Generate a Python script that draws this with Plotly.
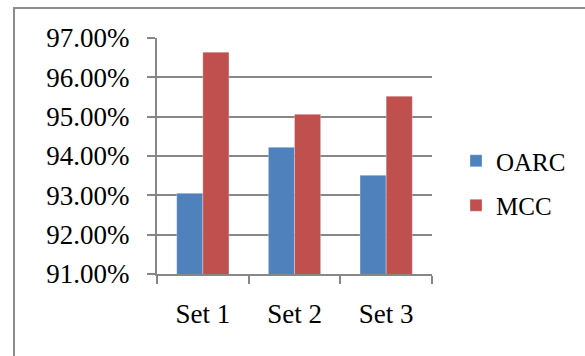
import plotly.graph_objects as go

# Accuracy of the two classifiers on each test set
categories = ["Set 1", "Set 2", "Set 3"]
oarc = [0.9305, 0.9422, 0.9351]
mcc = [0.9664, 0.9506, 0.9552]
y_ticks = [0.91, 0.92, 0.93, 0.94, 0.95, 0.96, 0.97]

BLUE = "#4F81BD"
RED = "#C0504D"
GRID = "#878787"
FONT = "Liberation Serif"

fig = go.Figure()
fig.add_trace(go.Bar(x=categories, y=oarc, name="OARC", marker_color=BLUE,
                     marker_line=dict(color="rgba(255,255,255,0.5)", width=0.6),
                     legendgroup="a"))
fig.add_trace(go.Bar(x=categories, y=mcc, name="MCC", marker_color=RED,
                     marker_line=dict(color="rgba(255,255,255,0.5)", width=0.6),
                     legendgroup="b"))

W, H = 585, 356
L, R, T, B = 157, 153, 38, 82
pw, ph = W - L - R, H - T - B

def px_x(x):
    return (x - L) / pw

def px_y(y):
    return 1 - (y - T) / ph

fig.update_layout(
    width=W, height=H,
    margin=dict(l=L, r=R, t=T, b=B, pad=0, autoexpand=False),
    paper_bgcolor="white", plot_bgcolor="white",
    barmode="group", bargap=0.43, bargroupgap=0,
    font=dict(family=FONT, size=27, color="black"),
    showlegend=True,
    legend=dict(x=px_x(456), y=px_y(138), xanchor="left", yanchor="top",
                font=dict(family=FONT, size=25, color="black"),
                traceorder="grouped", tracegroupgap=9,
                bgcolor="rgba(0,0,0,0)", itemwidth=30),
    shapes=[dict(type="rect", xref="paper", yref="paper",
                 x0=px_x(14), x1=px_x(600), y0=px_y(372), y1=px_y(8),
                 line=dict(color="#8C8C8C", width=2), fillcolor="rgba(0,0,0,0)",
                 layer="below")],
)

fig.update_xaxes(
    showline=True, linecolor=GRID, linewidth=2,
    ticks="outside", ticklen=8, tickcolor=GRID, tickwidth=2,
    tickson="boundaries", showgrid=False,
    ticklabelstandoff=15,
    tickfont=dict(family=FONT, size=27),
)
fig.update_yaxes(
    range=[0.91, 0.97], tickvals=y_ticks, tickformat=".2%",
    showline=True, linecolor=GRID, linewidth=2,
    ticks="outside", ticklen=8, tickcolor=GRID, tickwidth=2,
    showgrid=True, gridcolor=GRID, gridwidth=2,
    zeroline=False, ticklabelstandoff=12,
    tickfont=dict(family=FONT, size=27),
)

fig.write_html("out.html")
